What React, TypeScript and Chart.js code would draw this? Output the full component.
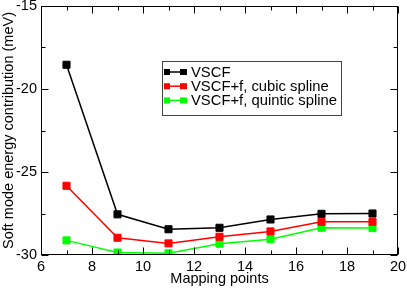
import React, { useEffect, useRef } from "react";
import { Chart, registerables } from "chart.js";

Chart.register(...registerables);

const mappingPoints = [7, 9, 11, 13, 15, 17, 19];
const vscf = [-18.54, -27.55, -28.45, -28.36, -27.86, -27.52, -27.5];
const vscfCubic = [-25.83, -28.96, -29.3, -28.9, -28.58, -28.0, -28.0];
const vscfQuintic = [-29.12, -29.85, -29.9, -29.32, -29.05, -28.36, -28.38];
const seriesLabels = ["VSCF", "VSCF+f, cubic spline", "VSCF+f, quintic spline"];
const seriesColors = ["#000000", "#ff0000", "#00ff00"];
const xTicks = [6, 8, 10, 12, 14, 16, 18, 20];
const yTicks = [-30, -25, -20, -15];
const xMinorStep = 1;
const yMinorStep = 2.5;

const FONT = "'Liberation Sans', Arial, Helvetica, sans-serif";

const framePlugin = {
  id: "frameTicks",
  afterDatasetsDraw(chart: any) {
    const { ctx, chartArea } = chart;
    const xs = chart.scales.x;
    const ys = chart.scales.y;
    const L = Math.round(chartArea.left) + 0.5;
    const R = Math.round(chartArea.right) - 0.5;
    const T = Math.round(chartArea.top) + 0.5;
    const B = Math.round(chartArea.bottom) - 0.5;
    ctx.save();
    ctx.strokeStyle = "#000";
    ctx.lineWidth = 1;
    ctx.strokeRect(L, T, R - L, B - T);
    ctx.beginPath();
    const major = 7;
    const minor = 4;
    for (let v = xs.min; v <= xs.max + 1e-9; v += xMinorStep) {
      const isMajor = xTicks.some((t) => Math.abs(t - v) < 1e-9);
      const len = isMajor ? major : minor;
      const px = Math.round(xs.getPixelForValue(v)) + 0.5;
      ctx.moveTo(px, B);
      ctx.lineTo(px, B - len);
      ctx.moveTo(px, T);
      ctx.lineTo(px, T + len);
    }
    for (let v = ys.min; v <= ys.max + 1e-9; v += yMinorStep) {
      const isMajor = yTicks.some((t) => Math.abs(t - v) < 1e-9);
      const len = isMajor ? major : minor;
      const py = Math.round(ys.getPixelForValue(v)) + 0.5;
      ctx.moveTo(L, py);
      ctx.lineTo(L + len, py);
      ctx.moveTo(R, py);
      ctx.lineTo(R - len, py);
    }
    ctx.stroke();

    // legend box
    const bx = 162.5, by = 61.5, bw = 179, bh = 54;
    ctx.fillStyle = "#fff";
    ctx.fillRect(bx, by, bw, bh);
    ctx.strokeStyle = "#444";
    ctx.strokeRect(bx, by, bw, bh);
    ctx.font = `14.8px ${FONT}`;
    ctx.textBaseline = "middle";
    ctx.textAlign = "left";
    chart.data.datasets.forEach((ds: any, i: number) => {
      const cy = 72 + i * 14.2;
      ctx.strokeStyle = ds.borderColor;
      ctx.lineWidth = 1.5;
      ctx.beginPath();
      ctx.moveTo(166, cy);
      ctx.lineTo(184, cy);
      ctx.stroke();
      ctx.fillStyle = ds.borderColor;
      ctx.fillRect(164, cy - 3, 6, 6);
      ctx.fillRect(180, cy - 3, 7, 6);
      ctx.fillStyle = "#000";
      ctx.fillText(ds.label, 191, cy + 0.5);
    });
    ctx.restore();
  },
};

export default function App() {
  const ref = useRef<HTMLCanvasElement | null>(null);
  useEffect(() => {
    document.body.style.margin = "0";
    const makeData = (arr: number[]) => mappingPoints.map((x, i) => ({ x, y: arr[i] }));
    const all = [vscf, vscfCubic, vscfQuintic];
    const chart = new Chart(ref.current as HTMLCanvasElement, {
      type: "line",
      data: {
        datasets: all.map((arr, i) => ({
          label: seriesLabels[i],
          data: makeData(arr),
          borderColor: seriesColors[i],
          backgroundColor: seriesColors[i],
          borderWidth: 1.5,
          pointStyle: "rect",
          pointRadius: 5,
          pointBorderWidth: 1,
          pointBackgroundColor: seriesColors[i],
          pointBorderColor: seriesColors[i],
          tension: 0,
          fill: false,
        })),
      },
      options: {
        animation: false,
        responsive: false,
        layout: { padding: { left: 0, top: 5, right: 9, bottom: 0 } },
        plugins: { legend: { display: false }, tooltip: { enabled: false } },
        scales: {
          x: {
            type: "linear",
            min: 6,
            max: 20,
            afterBuildTicks: (s: any) => {
              s.ticks = xTicks.map((v) => ({ value: v }));
            },
            afterFit: (s: any) => {
              s.height = 33;
              s.paddingLeft = 0;
              s.paddingRight = 0;
            },
            grid: { display: false, drawTicks: false },
            border: { display: false },
            ticks: {
              autoSkip: false,
              maxRotation: 0,
              padding: 3,
              color: "#000",
              font: { family: FONT, size: 14.5 },
            },
            title: {
              display: true,
              text: "Mapping points",
              color: "#000",
              padding: { top: 0, bottom: 0 },
              font: { family: FONT, size: 14.5 },
            },
          },
          y: {
            type: "linear",
            min: -30,
            max: -15,
            afterBuildTicks: (s: any) => {
              s.ticks = yTicks.map((v) => ({ value: v }));
            },
            afterFit: (s: any) => {
              s.width = 41;
              s.paddingTop = 0;
              s.paddingBottom = 0;
            },
            grid: { display: false, drawTicks: false },
            border: { display: false },
            ticks: {
              autoSkip: false,
              padding: 4,
              color: "#000",
              font: { family: FONT, size: 14.5 },
            },
            title: {
              display: true,
              text: "Soft mode energy contribution (meV)",
              color: "#000",
              padding: { top: 0, bottom: 0 },
              font: { family: FONT, size: 14.5 },
            },
          },
        },
      },
      plugins: [framePlugin],
    } as any);
    return () => chart.destroy();
  }, []);
  return (
    <div style={{ position: "absolute", left: 0, top: 0, width: 407, height: 288 }}>
      <canvas ref={ref} width={407} height={288} style={{ display: "block" }} />
    </div>
  );
}
